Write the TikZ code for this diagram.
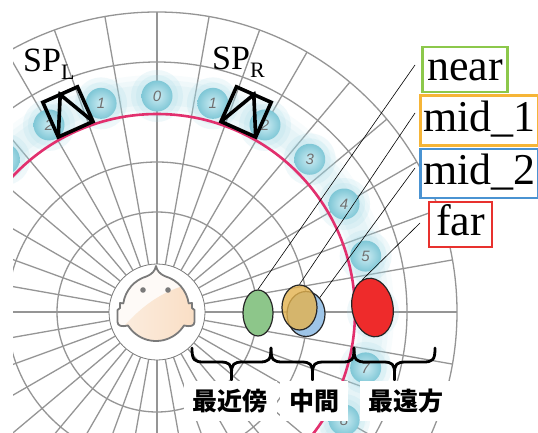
\documentclass[tikz,border=0pt]{standalone}
\usepackage{fontspec}
\setmainfont{Liberation Serif}
\newfontfamily\cjk{Noto Sans CJK JP}
\newfontfamily\numfont{Liberation Sans}
\usetikzlibrary{calc,shapes.geometric}
\definecolor{gridgray}{HTML}{959595}
\definecolor{ringpink}{HTML}{E2306E}
\definecolor{glowblue}{HTML}{9ED8E6}
\definecolor{bubin}{HTML}{CDECF3}
\definecolor{bubout}{HTML}{7FC7D6}
\definecolor{numgray}{HTML}{707070}
\definecolor{headline}{HTML}{7A7A7A}
\definecolor{peach}{HTML}{F8D7B8}
\definecolor{nearg}{HTML}{8CC84B}
\definecolor{midone}{HTML}{F6B537}
\definecolor{midtwo}{HTML}{4A93D2}
\definecolor{farred}{HTML}{E8312E}
\definecolor{ellgreen}{HTML}{8DC68A}
\definecolor{elltan}{HTML}{E3B24E}
\definecolor{ellblue}{HTML}{9EC5E8}
\definecolor{ellred}{HTML}{EE2B2B}
% outline of the listener's head, centred on the origin
\newcommand\listenerhead{(0,42) .. controls (1,37) and (4,34) .. (74:33)
  arc[start angle=74, end angle=8, radius=33]
  -- (36,5) -- (36,0) -- (38.5,-2) -- (38.5,-14)
  .. controls (38.5,-18) and (34,-19) .. (-32:33)
  arc[start angle=-32, end angle=-148, radius=33]
  .. controls (-34,-19) and (-38.5,-18) .. (-38.5,-14)
  -- (-38.5,-2) -- (-36,0) -- (-36,5) -- (172:33)
  arc[start angle=172, end angle=106, radius=33]
  .. controls (-4,34) and (-1,37) .. (0,42) -- cycle}
\begin{document}
\begin{tikzpicture}[x=1pt,y=1pt,
  gridline/.style={draw=gridgray, line width=1.3pt},
  bubble/.style={circle, minimum size=31pt, inner sep=0pt, shading=radial,
    inner color=bubin, outer color=bubout,
    font=\fontsize{15}{15}\numfont\itshape, text=numgray},
  spk/.style={draw=black, line width=3.6pt, line join=miter},
  ell/.style={ellipse, draw=black!85, line width=1.2pt, inner sep=0pt},
  leader/.style={draw=black, line width=0.6pt},
  lbl/.style={font=\fontsize{44}{44}\selectfont, line width=2.6pt, fill=white,
    text height=31pt, text depth=9pt, inner xsep=3pt, inner ysep=2.5pt},
  jp/.style={font=\cjk\bfseries\fontsize{25}{25}\selectfont, fill=white,
    inner xsep=9pt, inner ysep=8pt},
  bracestroke/.style={draw=black, line width=2.8pt, line cap=round, line join=round},
  sp/.style={anchor=base west, inner sep=0pt, font=\fontsize{34}{34}\selectfont}
]
\useasboundingbox (0,0) rectangle (538,432);
\fill[white] (0,0) rectangle (538,432);
\coordinate (C) at (157,120);

\begin{scope}
  \clip (13,0) rectangle (538,432);
  % polar grid
  \foreach \r in {100,150,250,300} \draw[gridline] (C) circle[radius=\r];
  \foreach \a in {0,10,...,350} \draw[gridline] ($(C)+(\a:48)$) -- ($(C)+(\a:300)$);
  % soft glow along the loudspeaker ring
  \foreach \w/\o in {40/0.07,30/0.09,20/0.11}
    \draw[glowblue, line width=\w pt, opacity=\o] (C) circle[radius=217];
  \foreach \k in {-3,...,8}{
    \fill[glowblue, opacity=0.16] ($(C)+(90-15*\k:216)$) circle[radius=26];
    \fill[glowblue, opacity=0.16] ($(C)+(90-15*\k:216)$) circle[radius=21];
  }
  % numbered loudspeaker positions
  \foreach \k in {-3,...,8}{
    \pgfmathtruncatemacro\n{abs(\k)}
    \pgfmathtruncatemacro\idx{\k+3}
    \node[bubble] (bub\idx) at ($(C)+(90-15*\k:216)$) {\n};
  }
  \draw[ringpink, line width=2.6pt] (C) circle[radius=198];
\end{scope}

% listener
\fill[white] (C) circle[radius=48];
\draw[headline, line width=0.8pt] (C) circle[radius=48];
\coordinate (H) at ($(C)+(-1,4)$);
\begin{scope}[shift={(H)}]
  \begin{scope}
    \clip \listenerhead;
    \fill[peach!12] (-45,-45) rectangle (45,45);
    \shade[left color=peach!40, right color=peach!85]
      (-45,-45) -- (-45,-34) .. controls (-22,-4) and (4,20) .. (45,26) -- (45,-45) -- cycle;
  \end{scope}
  \draw[headline, line width=1.8pt, line join=round] \listenerhead;
  \fill[headline] (-13,18) circle[radius=2.8];
  \fill[headline] (12,18) circle[radius=2.8];
\end{scope}

% loudspeakers
\begin{scope}[shift={($(C)+(114:219)$)}, rotate=24]
  \draw[spk] (-19,-19) rectangle (19,19);
  \draw[spk] (-19,-19) -- (0,19) -- (19,-19);
\end{scope}
\begin{scope}[shift={($(C)+(66:219)$)}, rotate=-24]
  \draw[spk] (-19,-19) rectangle (19,19);
  \draw[spk] (-19,-19) -- (0,19) -- (19,-19);
\end{scope}
\node[sp] (spl) at (23,360) {SP\raisebox{-8pt}{\fontsize{22}{22}\selectfont L}};
\node[sp] (spr) at (212,362) {SP\raisebox{-8pt}{\fontsize{22}{22}\selectfont R}};

% sound image regions
\node[ell, fill=ellblue, minimum width=38pt, minimum height=45pt] (mid2e) at (306,118) {};
\node[ell, fill=elltan, fill opacity=0.8, minimum width=35pt, minimum height=45pt] (mid1e) at (299.5,124.5) {};
\node[ell, fill=ellgreen, minimum width=30pt, minimum height=46pt] (neare) at (258,119) {};
\node[ell, fill=ellred, rotate=10, minimum width=41pt, minimum height=59pt] (fare) at (372.5,124.5) {};

% labels
\node[lbl, draw=nearg, minimum width=85pt, minimum height=45pt] (nearl) at (465,362.5) {near};
\node[lbl, draw=midone, minimum width=115pt, minimum height=50pt] (mid1l) at (479.5,311.5) {mid\_1};
\node[lbl, draw=midtwo, minimum width=115pt, minimum height=49pt] (mid2l) at (479.5,258.5) {mid\_2};
\node[lbl, draw=farred, minimum width=63pt, minimum height=45pt] (farl) at (460.5,207.5) {far};

\coordinate (nearend) at (415,367);
\coordinate (mid1end) at (415,319);
\coordinate (mid2end) at (415,264);
\coordinate (farend) at (420,209);
\draw[leader] (neare.north) -- (nearend);
\draw[leader] (mid1e.north) -- (mid1end);
\draw[leader] (mid2e.50) -- (mid2end);
\draw[leader] (fare.100) -- (farend);

% distance braces
\foreach \xa/\xb in {192/271, 271/354, 354/435}{
  \pgfmathsetmacro\xm{(\xa+\xb)/2}
  \draw[bracestroke] (\xa,84) .. controls (\xa,72) and (\xa+2,70) .. (\xa+12,70)
    -- (\xm-12,70) .. controls (\xm-2,70) and (\xm,68) .. (\xm,58) -- (\xm,52)
    -- (\xm,58) .. controls (\xm,68) and (\xm+2,70) .. (\xm+12,70)
    -- (\xb-12,70) .. controls (\xb-2,70) and (\xb,72) .. (\xb,84);
}
\node[jp] (tnear) at (230,31) {最近傍};
\node[jp] (tmid) at (314,31) {中間};
\node[jp] (tfar) at (406,31) {最遠方};
\end{tikzpicture}
\end{document}
